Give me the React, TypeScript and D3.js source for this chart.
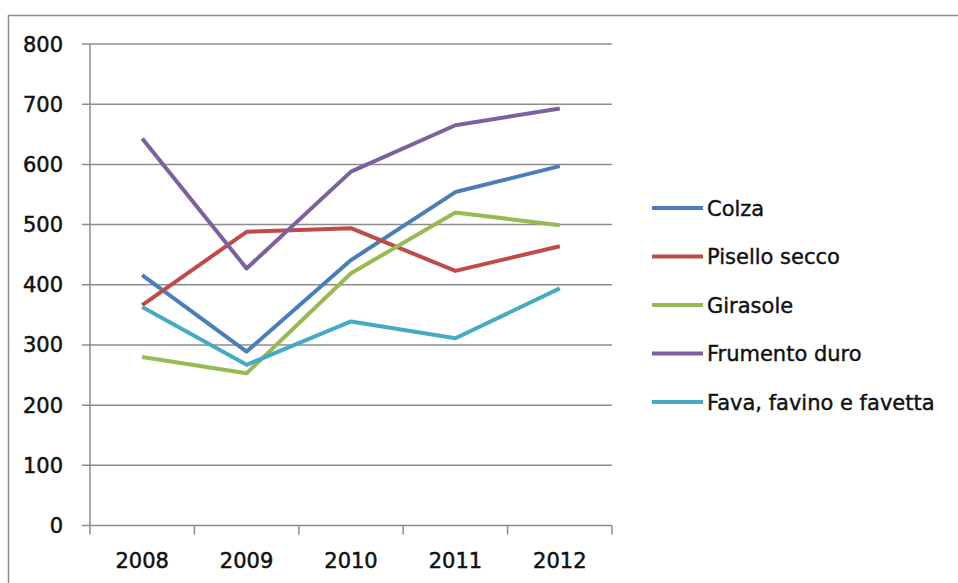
import React, { useEffect, useRef } from "react";
import * as d3 from "d3";

const years = ["2008", "2009", "2010", "2011", "2012"];
const seriesNames = ["Colza", "Pisello secco", "Girasole", "Frumento duro", "Fava, favino e favetta"];
const colza = [416, 289, 441, 554, 597];
const piselloSecco = [366, 488, 494, 423, 464];
const girasole = [280, 253, 419, 520, 499];
const frumentoDuro = [643, 427, 588, 665, 693];
const fava = [363, 267, 339, 311, 394];
const yTicks = [0, 100, 200, 300, 400, 500, 600, 700, 800];
const colors = ["#4a7ebb", "#be4b48", "#98b954", "#7d60a0", "#46aac5"];

const App = () => {
  const chartRef = useRef<SVGSVGElement>(null);

  const drawChart = () => {
    const svg = d3.select(chartRef.current);
    svg.selectAll("*").remove();

    const width = 958;
    const height = 583;
    const left = 90;
    const right = 612;
    const top = 44;
    const bottom = 525.5;
    const font = "'DejaVu Sans', sans-serif";
    const grey = "#8c8c8c";

    // outer chart frame (runs off the picture on the right and bottom)
    svg
      .append("rect")
      .attr("x", 8.5)
      .attr("y", 15.5)
      .attr("width", width)
      .attr("height", height)
      .attr("fill", "white")
      .attr("stroke", grey)
      .attr("stroke-width", 1.5);

    const x = d3.scaleBand().domain(years).range([left, right]);
    const y = d3.scaleLinear().domain([0, 800]).range([bottom, top]);

    // gridlines
    svg
      .append("g")
      .selectAll("line")
      .data(yTicks)
      .join("line")
      .attr("x1", left - 8)
      .attr("x2", right)
      .attr("y1", (d) => y(d))
      .attr("y2", (d) => y(d))
      .attr("stroke", grey)
      .attr("stroke-width", 1.5);

    // y axis
    svg
      .append("line")
      .attr("x1", left)
      .attr("x2", left)
      .attr("y1", top)
      .attr("y2", bottom)
      .attr("stroke", grey)
      .attr("stroke-width", 1.5);

    svg
      .append("g")
      .selectAll("text")
      .data(yTicks)
      .join("text")
      .attr("x", 63)
      .attr("y", (d) => y(d))
      .attr("dy", "0.36em")
      .attr("text-anchor", "end")
      .attr("font-family", font)
      .attr("font-size", 21)
      .attr("fill", "#111")
      .attr("stroke", "#111")
      .attr("stroke-width", 0.5)
      .text((d) => d);

    // x axis ticks at band edges
    const edges = years.map((yr) => x(yr)!).concat([right]);
    svg
      .append("g")
      .selectAll("line")
      .data(edges)
      .join("line")
      .attr("x1", (d) => d)
      .attr("x2", (d) => d)
      .attr("y1", bottom)
      .attr("y2", bottom + 9)
      .attr("stroke", grey)
      .attr("stroke-width", 1.5);

    svg
      .append("g")
      .selectAll("text")
      .data(years)
      .join("text")
      .attr("x", (d) => x(d)! + x.bandwidth() / 2)
      .attr("y", 568)
      .attr("text-anchor", "middle")
      .attr("font-family", font)
      .attr("font-size", 21)
      .attr("fill", "#111")
      .attr("stroke", "#111")
      .attr("stroke-width", 0.5)
      .text((d) => d);

    // series lines
    const allSeries = [colza, piselloSecco, girasole, frumentoDuro, fava];
    const line = d3
      .line<number>()
      .x((_, i) => x(years[i])! + x.bandwidth() / 2)
      .y((d) => y(d));

    svg
      .append("g")
      .selectAll("path")
      .data(allSeries)
      .join("path")
      .attr("d", (d) => line(d))
      .attr("fill", "none")
      .attr("stroke", (_, i) => colors[i])
      .attr("stroke-width", 4)
      .attr("stroke-linejoin", "round");

    // legend
    const legend = svg
      .append("g")
      .selectAll("g")
      .data(seriesNames)
      .join("g")
      .attr("transform", (_, i) => `translate(652, ${208 + i * 48.5})`);

    legend
      .append("line")
      .attr("x1", 0)
      .attr("x2", 51)
      .attr("stroke", (_, i) => colors[i])
      .attr("stroke-width", 4);

    legend
      .append("text")
      .attr("x", 55)
      .attr("dy", "0.36em")
      .attr("font-family", font)
      .attr("font-size", 21)
      .attr("fill", "#111")
      .attr("stroke", "#111")
      .attr("stroke-width", 0.4)
      .text((d) => d);
  };

  useEffect(() => {
    drawChart();
  }, []);

  return (
    <svg
      ref={chartRef}
      width={958}
      height={583}
      style={{ position: "absolute", left: 0, top: 0, display: "block" }}
    ></svg>
  );
};

export default App;
